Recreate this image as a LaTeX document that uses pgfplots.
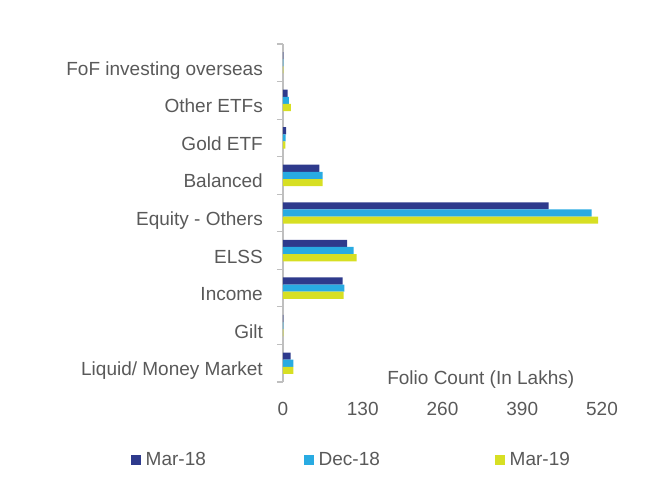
\documentclass[border=0pt]{standalone}
\usepackage{pgfplots}
\pgfplotsset{compat=1.18}
\usepackage{fontspec}
\setmainfont{Liberation Sans}
\definecolor{cA}{HTML}{2E3A8C}
\definecolor{cB}{HTML}{29ABE2}
\definecolor{cC}{HTML}{D7DF23}
\definecolor{txt}{HTML}{595959}
\definecolor{axc}{HTML}{BFBFBF}
\newcommand{\lblfont}{\fontsize{19bp}{22bp}\selectfont}
\begin{document}
\begin{tikzpicture}
\begin{axis}[
  scale only axis, width=319bp, height=338bp,
  xmin=0, xmax=520, ymin=-0.5, ymax=8.5,
  xbar, bar width=0.19,
  axis lines*=left, axis line style={-},
  x axis line style={draw=none},
  y axis line style={draw=axc, line width=1.2bp},
  xtick={0,130,260,390,520},
  ytick={0,...,8},
  yticklabels={Liquid/ Money Market, Gilt, Income, ELSS, Equity - Others, Balanced, Gold ETF, Other ETFs, FoF investing overseas},
  minor ytick={-0.5,0.5,...,8.5},
  major tick length=0pt, minor tick length=6bp, tick align=outside,
  minor y tick style={draw=axc, line width=1.2bp},
  /pgf/number format/assume math mode=true,
  yticklabel style={inner sep=0pt, anchor=base east, xshift=-20bp, yshift=-12.5bp, font=\lblfont, text=txt},
  xticklabel style={inner sep=0pt, anchor=base, yshift=-33bp, font=\lblfont, text=txt},
  xlabel={Folio Count (In Lakhs)},
  xlabel style={at={(axis description cs:0.62,0)}, anchor=center, yshift=2bp, inner sep=0pt, font=\lblfont, text=txt},
  legend columns=3,
  legend style={at={(axis description cs:-0.478,-0.2308)}, anchor=west, draw=none, fill=none, inner sep=0pt, column sep=5bp, nodes={inner sep=0pt, font=\lblfont, text=txt}},
  legend image code/.code={\fill[#1] (0bp,-5bp) rectangle (10bp,5bp);},
]
\addplot[fill=cA, draw=none, bar shift=0.19] coordinates {(12.5,0) (0.5,1) (97,2) (104.5,3) (433,4) (59.5,5) (4.9,6) (7.5,7) (0.8,8)};
\addplot[fill=cB, draw=none, bar shift=0] coordinates {(17,0) (0.5,1) (100,2) (115,3) (503,4) (64.5,5) (4.4,6) (9.7,7) (0.7,8)};
\addplot[fill=cC, draw=none, bar shift=-0.19] coordinates {(17,0) (0.5,1) (99,2) (120,3) (513.5,4) (64.5,5) (3.8,6) (13,7) (0.6,8)};
\legend{\makebox[153bp][l]{Mar-18}, \makebox[171bp][l]{Dec-18}, Mar-19}
\coordinate (bl) at (rel axis cs:0,0);
\end{axis}
\pgfresetboundingbox
\path[use as bounding box] (bl) ++(-283bp,-109bp) rectangle ++(649bp,491bp);
\end{tikzpicture}
\end{document}
